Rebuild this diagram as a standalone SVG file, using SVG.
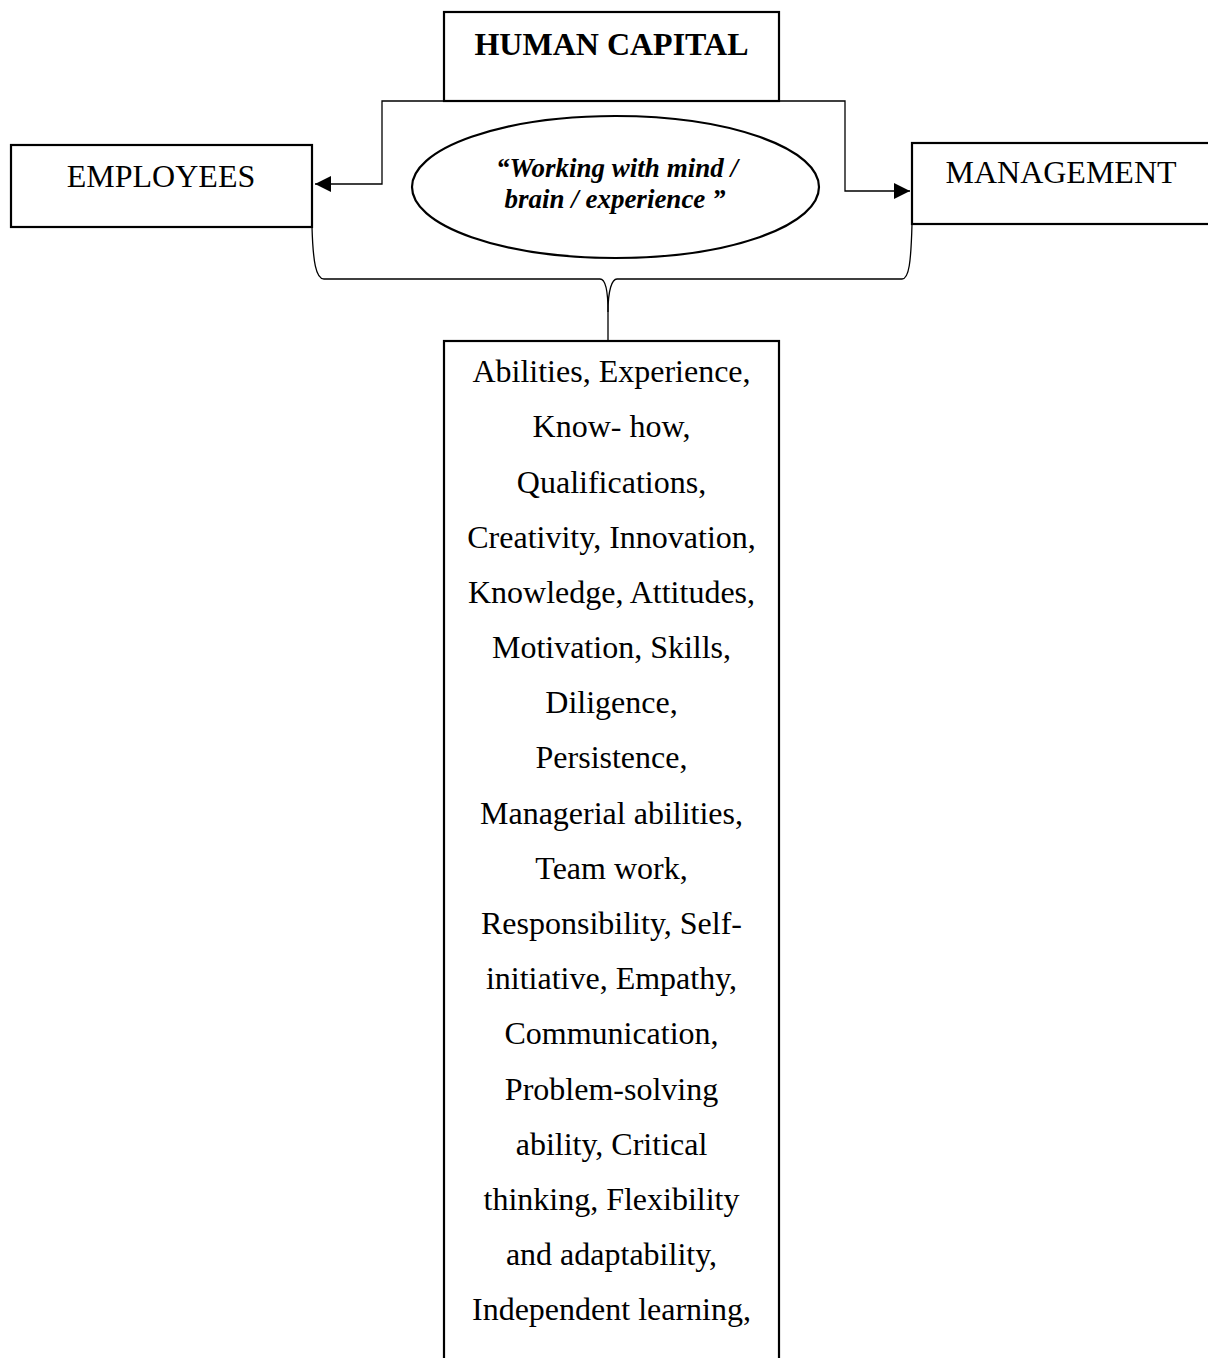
<svg xmlns="http://www.w3.org/2000/svg" width="1208" height="1358" viewBox="0 0 1208 1358">
<style>
.box{fill:#fff;stroke:#000;stroke-width:2.2}
.ln{fill:none;stroke:#000;stroke-width:1.3}
.t{font-family:"Liberation Serif","Times New Roman",serif;font-size:32px;fill:#000;text-anchor:middle}
.b{font-weight:bold}
.q{font-family:"Liberation Serif","Times New Roman",serif;font-size:27px;font-weight:bold;font-style:italic;fill:#000;text-anchor:middle}
</style>
<defs>
<marker id="ah" viewBox="0 0 16 16" refX="16" refY="8" markerWidth="16" markerHeight="16" markerUnits="userSpaceOnUse" orient="auto">
<path d="M0,0 L16,8 L0,16 z" fill="#000"/>
</marker>
</defs>
<rect width="1208" height="1358" fill="#fff"/>
<g id="connectors">
<path class="ln" d="M444,101 L382,101 L382,184 L315,184" marker-end="url(#ah)"/>
<path class="ln" d="M779,101 L845,101 L845,191 L910,191" marker-end="url(#ah)"/>
<path class="ln" d="M312,227 C313,262 316,279 324,279 L600,279 C605,279 608,290 608,312 L608,341"/>
<path class="ln" d="M912,224 C911,262 909,279 902,279 L617,279 C612,279 608,290 608,312"/>
</g>
<g id="human-capital">
<rect class="box" x="444" y="12" width="335" height="89"/>
<text class="t b" x="611.5" y="55">HUMAN CAPITAL</text>
</g>
<g id="employees">
<rect class="box" x="11" y="145" width="301" height="82"/>
<text class="t" x="161" y="187">EMPLOYEES</text>
</g>
<g id="management">
<rect class="box" x="912" y="143" width="310" height="81"/>
<text class="t" x="1061" y="183">MANAGEMENT</text>
</g>
<g id="ellipse">
<ellipse cx="615.5" cy="187" rx="203.5" ry="71" fill="#fff" stroke="#000" stroke-width="2.2"/>
<text class="q" x="617" y="177">“Working with mind /</text>
<text class="q" x="615" y="208">brain / experience ”</text>
</g>
<g id="attributes">
<rect class="box" x="444" y="341" width="335" height="1030"/>
<text class="t" x="611.5" y="382">Abilities, Experience,</text>
<text class="t" x="611.5" y="437">Know- how,</text>
<text class="t" x="611.5" y="492.5">Qualifications,</text>
<text class="t" x="611.5" y="548">Creativity, Innovation,</text>
<text class="t" x="611.5" y="603">Knowledge, Attitudes,</text>
<text class="t" x="611.5" y="658">Motivation, Skills,</text>
<text class="t" x="611.5" y="713">Diligence,</text>
<text class="t" x="611.5" y="768">Persistence,</text>
<text class="t" x="611.5" y="824">Managerial abilities,</text>
<text class="t" x="611.5" y="879">Team work,</text>
<text class="t" x="611.5" y="934">Responsibility, Self-</text>
<text class="t" x="611.5" y="989">initiative, Empathy,</text>
<text class="t" x="611.5" y="1044">Communication,</text>
<text class="t" x="611.5" y="1100">Problem-solving</text>
<text class="t" x="611.5" y="1155">ability, Critical</text>
<text class="t" x="611.5" y="1210">thinking, Flexibility</text>
<text class="t" x="611.5" y="1265">and adaptability,</text>
<text class="t" x="611.5" y="1320">Independent learning,</text>
</g>
</svg>
